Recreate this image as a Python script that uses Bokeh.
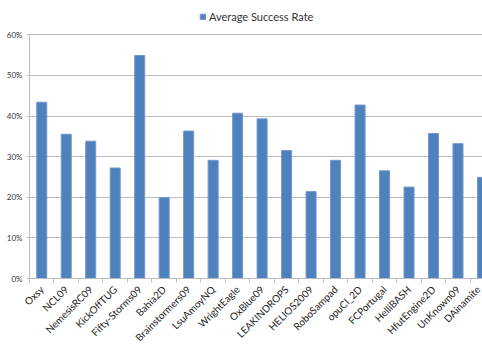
import math
from bokeh.plotting import figure
from bokeh.models import (Range1d, FixedTicker, NumeralTickFormatter, Legend,
                          LegendItem, ColumnDataSource)
from bokeh.embed import file_html
from bokeh.resources import INLINE

teams = ["Oxsy", "NCL09", "NemesisRC09", "KickOffTUG", "Fifty-Storms09", "Bahia2D",
         "Brainstormers09", "LsuAmoyNQ", "WrightEagle", "OxBlue09", "LEAKINDROPS",
         "HELIOS2009", "RoboSampad", "opuCI_2D", "FCPortugal", "HelliBASH",
         "HfutEngine2D", "UnKnown09", "DAinamite"]
success_rate = [0.434, 0.355, 0.338, 0.272, 0.549, 0.199,
                0.363, 0.291, 0.407, 0.393, 0.315,
                0.214, 0.291, 0.427, 0.265, 0.225,
                0.357, 0.332, 0.249]
y_ticks = [0.0, 0.1, 0.2, 0.3, 0.4, 0.5, 0.6]

idx = list(range(len(teams)))
src = ColumnDataSource(dict(x=idx, rate=success_rate, team=teams))

GRID = "#BDBDBD"

# frame runs to the top of the canvas; the extra room above 60% holds the legend
p = figure(width=482, height=350,
           x_range=Range1d(-0.5, 18.0005), y_range=Range1d(0, 0.6844),
           output_backend="svg", toolbar_location=None,
           min_border_left=29, min_border_right=0, min_border_top=0,
           min_border_bottom=0)
p.outline_line_color = None
p.background_fill_color = "white"
p.border_fill_color = "white"

r = p.vbar(x="x", top="rate", width=0.41, source=src,
           fill_color="#4F81BD", line_color="#7199CC", line_width=1)

# y axis
p.yaxis.ticker = FixedTicker(ticks=y_ticks)
p.yaxis.bounds = (0, 0.6)
p.yaxis.formatter = NumeralTickFormatter(format="0%")
p.yaxis.axis_line_color = GRID
p.yaxis.major_tick_line_color = GRID
p.yaxis.major_tick_out = 3
p.yaxis.major_tick_in = 0
p.yaxis.minor_tick_line_color = None
p.yaxis.major_label_text_font = "Lato"
p.yaxis.major_label_text_font_size = "8px"
p.yaxis.major_label_text_color = "#333333"
p.yaxis.major_label_standoff = 4

p.ygrid.ticker = FixedTicker(ticks=y_ticks)
p.ygrid.grid_line_color = GRID
p.xgrid.grid_line_color = None

# x axis
p.xaxis.ticker = FixedTicker(ticks=idx, minor_ticks=[i - 0.5 for i in range(len(teams) + 1)])
p.xaxis.major_label_overrides = {i: t for i, t in zip(idx, teams)}
p.xaxis.major_label_orientation = math.pi / 4
p.xaxis.major_tick_line_color = None
p.xaxis.minor_tick_line_color = GRID
p.xaxis.minor_tick_out = 4
p.xaxis.minor_tick_in = 0
p.xaxis.axis_line_color = GRID
p.xaxis.major_label_text_font = "Lato"
p.xaxis.major_label_text_font_size = "10px"
p.xaxis.major_label_text_color = "#222222"
p.xaxis.major_label_standoff = 3

legend = Legend(items=[LegendItem(label="Average Success Rate", renderers=[r])],
                orientation="horizontal", location=(170, 255),
                border_line_color=None, background_fill_alpha=0,
                padding=0, margin=0, spacing=0,
                glyph_width=7, glyph_height=7, label_height=12,
                label_standoff=3,
                label_text_font="Lato", label_text_font_size="11px",
                label_text_color="#333333")
p.add_layout(legend, "center")

open("out.html", "w").write(file_html(p, INLINE))
